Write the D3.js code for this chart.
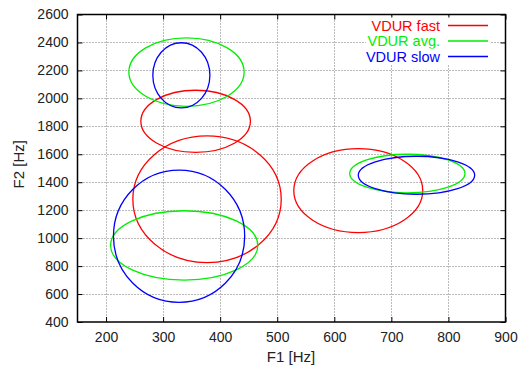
<!DOCTYPE html>
<html>
<head>
<meta charset="utf-8">
<script src="https://cdn.jsdelivr.net/npm/d3@7"></script>
<style>
  body { margin: 0; background: #fff; }
  text { font-family: "Liberation Sans", Arial, sans-serif; }
</style>
</head>
<body>
<svg id="chart" width="518" height="370"></svg>
<script>
// ellipse series: center F1, center F2, radius F1, radius F2 (Hz)
const seriesNames = ["VDUR fast", "VDUR avg.", "VDUR slow"];
const seriesColors = ["#ff0000", "#00ee00", "#0000ff"];
const fastEllipses = [
  { cx: 357, cy: 1836, rx: 96, ry: 222 },
  { cx: 377, cy: 1278, rx: 130, ry: 453 },
  { cx: 642, cy: 1340, rx: 113, ry: 300 }
];
const avgEllipses = [
  { cx: 341, cy: 2188, rx: 101, ry: 245 },
  { cx: 337, cy: 948, rx: 129, ry: 248 },
  { cx: 728, cy: 1462, rx: 101, ry: 138 }
];
const slowEllipses = [
  { cx: 332, cy: 2165, rx: 50, ry: 233 },
  { cx: 328, cy: 1013, rx: 115, ry: 473 },
  { cx: 744, cy: 1450, rx: 102, ry: 136 }
];
const xTicks = [200, 300, 400, 500, 600, 700, 800, 900];
const yTicks = [400, 600, 800, 1000, 1200, 1400, 1600, 1800, 2000, 2200, 2400, 2600];

const svg = d3.select("#chart");
const margin = { top: 14.5, right: 12.5, bottom: 48, left: 77.5 };
const width = 518, height = 370;

const x = d3.scaleLinear().domain([150, 900]).range([margin.left, width - margin.right]);
const y = d3.scaleLinear().domain([400, 2600]).range([height - margin.bottom, margin.top]);

// grid
const grid = svg.append("g").attr("stroke", "#777").attr("stroke-width", 1).attr("stroke-dasharray", "1,2");
grid.selectAll(".gx").data(xTicks.filter(d => d < 900)).join("line")
  .attr("x1", d => Math.round(x(d)) + 0.5).attr("x2", d => Math.round(x(d)) + 0.5)
  .attr("y1", y(2600)).attr("y2", y(400));
grid.selectAll(".gy").data(yTicks.filter(d => d > 400 && d < 2600)).join("line")
  .attr("y1", d => Math.round(y(d)) + 0.5).attr("y2", d => Math.round(y(d)) + 0.5)
  .attr("x1", x(150)).attr("x2", x(900));

// axes with inward ticks, mirrored
const fmt = d3.format("d");
svg.append("g").attr("transform", `translate(0,${y(400)})`)
  .call(d3.axisBottom(x).tickValues(xTicks).tickSizeInner(-5).tickSizeOuter(0).tickPadding(10).tickFormat(fmt));
svg.append("g").attr("transform", `translate(0,${y(2600)})`)
  .call(d3.axisTop(x).tickValues(xTicks).tickSizeInner(-5).tickSizeOuter(0).tickFormat(""));
svg.append("g").attr("transform", `translate(${x(150)},0)`)
  .call(d3.axisLeft(y).tickValues(yTicks).tickSizeInner(-5).tickSizeOuter(0).tickPadding(9).tickFormat(fmt));
svg.append("g").attr("transform", `translate(${x(900)},0)`)
  .call(d3.axisRight(y).tickValues(yTicks).tickSizeInner(-5).tickSizeOuter(0).tickFormat(""));
svg.selectAll(".domain").remove();
svg.selectAll(".tick text").attr("font-size", 14).attr("fill", "#222")
  .attr("font-family", "'Liberation Sans', Arial, sans-serif");
svg.selectAll(".tick line").attr("stroke", "#000");

// frame
svg.append("rect")
  .attr("x", x(150)).attr("y", y(2600))
  .attr("width", x(900) - x(150)).attr("height", y(400) - y(2600))
  .attr("fill", "none").attr("stroke", "#000").attr("stroke-width", 1.5);

// ellipses
const allSeries = [fastEllipses, avgEllipses, slowEllipses];
allSeries.forEach((list, i) => {
  svg.append("g").selectAll("ellipse").data(list).join("ellipse")
    .attr("cx", d => x(d.cx)).attr("cy", d => y(d.cy))
    .attr("rx", d => x(d.cx + d.rx) - x(d.cx))
    .attr("ry", d => y(d.cy) - y(d.cy + d.ry))
    .attr("fill", "none").attr("stroke", seriesColors[i]).attr("stroke-width", 1.3);
});

// legend
const legend = svg.append("g");
seriesNames.forEach((name, i) => {
  const ly = 25.5 + i * 15.5;
  legend.append("rect").attr("x", 366).attr("y", ly - 8).attr("width", 125).attr("height", 16).attr("fill", "#fff");
  legend.append("text").attr("x", 440).attr("y", ly).attr("dy", "0.36em")
    .attr("text-anchor", "end").attr("font-size", 14.5).attr("fill", seriesColors[i]).text(name);
  legend.append("line").attr("x1", 448).attr("x2", 488).attr("y1", ly).attr("y2", ly)
    .attr("stroke", seriesColors[i]).attr("stroke-width", 1.3);
});

// axis labels
svg.append("text").attr("x", 291).attr("y", 362)
  .attr("text-anchor", "middle").attr("font-size", 15).attr("fill", "#222").text("F1 [Hz]");
svg.append("text").attr("transform", `translate(24,${(y(400) + y(2600)) / 2 - 4}) rotate(-90)`)
  .attr("text-anchor", "middle").attr("font-size", 15).attr("fill", "#222").text("F2 [Hz]");
</script>
</body>
</html>
